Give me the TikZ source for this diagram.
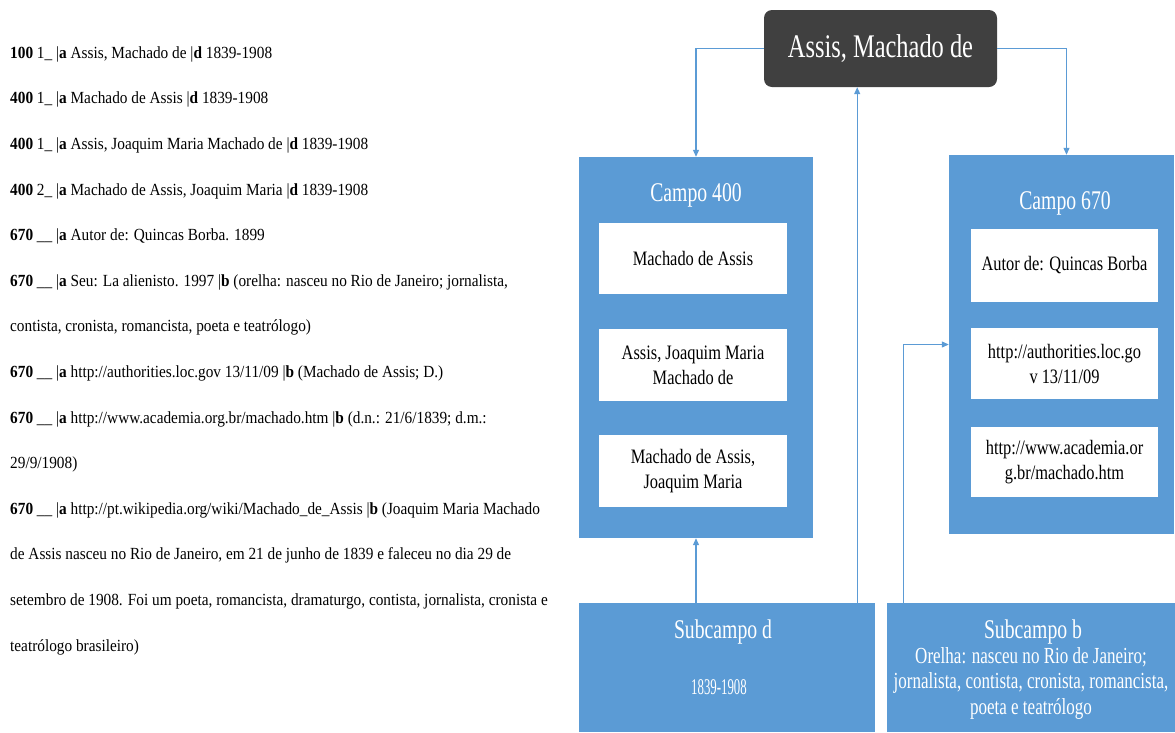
\documentclass[tikz,border=0pt]{standalone}
\usepackage{graphicx}
\usepackage{fontspec}
\setmainfont{Liberation Serif}
\usetikzlibrary{arrows.meta}
\definecolor{boxblue}{HTML}{5B9BD5}
\definecolor{headgray}{HTML}{404040}
% narrow set text, as in the record and in the boxes
\newcommand{\mq}[1]{\scalebox{0.9}[1]{#1}}
\newcommand{\sq}[2][0.78]{\scalebox{#1}[1]{#2}}
\begin{document}
\begin{tikzpicture}[x=1pt,y=-1pt,
  marcline/.style={anchor=base west, inner sep=0pt, font=\fontsize{17}{20}\selectfont},
  headbox/.style={fill=headgray, rounded corners=8pt, inner sep=0pt, text=white,
    font=\fontsize{33}{36}\selectfont},
  fieldbox/.style={fill=boxblue, inner sep=0pt},
  fieldtitle/.style={inner sep=0pt, text=white, font=\fontsize{27}{30}\selectfont},
  valuebox/.style={fill=white, inner sep=0pt, align=center, minimum width=188pt,
    font=\fontsize{20.5}{25}\selectfont},
  datetext/.style={inner sep=0pt, text=white, font=\fontsize{22.5}{26}\selectfont},
  subtext/.style={inner sep=0pt, text=white, align=center, font=\fontsize{23}{25.5}\selectfont},
  conn/.style={draw=boxblue, line width=1.1pt, -{Triangle[length=7pt,width=6pt]}}]
\useasboundingbox (0,0) rectangle (1175,732);

% MARC authority record
\node[marcline] (l1)  at (10,58.3)  {\mq{\textbf{100} 1\_ |\textbf{a} Assis, Machado de |\textbf{d} 1839-1908}};
\node[marcline] (l2)  at (10,103.9) {\mq{\textbf{400} 1\_ |\textbf{a} Machado de Assis |\textbf{d} 1839-1908}};
\node[marcline] (l3)  at (10,149.5) {\mq{\textbf{400} 1\_ |\textbf{a} Assis, Joaquim Maria Machado de |\textbf{d} 1839-1908}};
\node[marcline] (l4)  at (10,195.1) {\mq{\textbf{400} 2\_ |\textbf{a} Machado de Assis, Joaquim Maria |\textbf{d} 1839-1908}};
\node[marcline] (l5)  at (10,240.7) {\mq{\textbf{670} \_\_ |\textbf{a} Autor de: Quincas Borba. 1899}};
\node[marcline] (l6)  at (10,286.3) {\mq{\textbf{670} \_\_ |\textbf{a} Seu: La alienisto. 1997 |\textbf{b} (orelha: nasceu no Rio de Janeiro; jornalista,}};
\node[marcline] (l7)  at (10,331.9) {\mq{contista, cronista, romancista, poeta e teatrólogo)}};
\node[marcline] (l8)  at (10,377.5) {\mq{\textbf{670} \_\_ |\textbf{a} http://authorities.loc.gov 13/11/09 |\textbf{b} (Machado de Assis; D.)}};
\node[marcline] (l9)  at (10,423.1) {\mq{\textbf{670} \_\_ |\textbf{a} http://www.academia.org.br/machado.htm |\textbf{b} (d.n.: 21/6/1839; d.m.:}};
\node[marcline] (l10) at (10,468.7) {\mq{29/9/1908)}};
\node[marcline] (l11) at (10,514.3) {\mq{\textbf{670} \_\_ |\textbf{a} http://pt.wikipedia.org/wiki/Machado\_de\_Assis |\textbf{b} (Joaquim Maria Machado}};
\node[marcline] (l12) at (10,559.9) {\mq{de Assis nasceu no Rio de Janeiro, em 21 de junho de 1839 e faleceu no dia 29 de}};
\node[marcline] (l13) at (10,605.5) {\mq{setembro de 1908. Foi um poeta, romancista, dramaturgo, contista, jornalista, cronista e}};
\node[marcline] (l14) at (10,651.1) {\mq{teatrólogo brasileiro)}};

% heading
\node[headbox, minimum width=233pt, minimum height=77pt] (top) at (880.5,48.5) {\sq[0.74]{Assis, Machado de}};

% field 400
\node[fieldbox, minimum width=234pt, minimum height=381pt] (c400) at (696,347.5) {};
\node[fieldtitle] (t400) at (696,195) {\sq[0.73]{Campo 400}};
\node[valuebox, minimum height=71pt] (v1) at (693,258.5) {\sq[0.8]{Machado de Assis}};
\node[valuebox, minimum height=72pt] (v2) at (693,365) {\sq[0.8]{Assis, Joaquim Maria}\\\sq[0.8]{Machado de}};
\node[valuebox, minimum height=72pt] (v3) at (693,471) {\sq[0.8]{Machado de Assis,}\\\sq[0.8]{Joaquim Maria}};

% field 670
\node[fieldbox, minimum width=225pt, minimum height=379pt] (c670) at (1061.5,344.5) {};
\node[fieldtitle] (t670) at (1065,203) {\sq[0.73]{Campo 670}};
\node[valuebox, minimum width=187pt, minimum height=73pt] (w1) at (1064.5,265.5) {\sq[0.8]{Autor de: Quincas Borba}};
\node[valuebox, minimum width=187pt, minimum height=71pt] (w2) at (1064.5,363.5) {\sq[0.8]{http://authorities.loc.go}\\\sq[0.8]{v 13/11/09}};
\node[valuebox, minimum width=187pt, minimum height=70pt] (w3) at (1064.5,462) {\sq[0.8]{http://www.academia.or}\\\sq[0.8]{g.br/machado.htm}};

% subfields
\node[fieldbox, minimum width=296pt, minimum height=129pt] (subd) at (727,667.5) {};
\node[fieldtitle] (tsd) at (723,632) {\sq[0.73]{Subcampo d}};
\node[datetext] (vsd) at (719,687) {\sq[0.57]{1839-1908}};
\node[fieldbox, minimum width=288pt, minimum height=129pt] (subb) at (1031,667.5) {};
\node[fieldtitle] (tsb) at (1033,632) {\sq[0.73]{Subcampo b}};
\node[subtext] (vsb) at (1031,683) {\sq[0.74]{Orelha: nasceu no Rio de Janeiro;}\\\sq[0.74]{jornalista, contista, cronista, romancista,}\\\sq[0.74]{poeta e teatrólogo}};

% connectors
\draw[conn] (top.west) -| (c400.north);
\draw[conn] (top.east) -| ([xshift=5pt]c670.north);
\draw[conn] (c400.south |- subd.north) -- (c400.south);
\draw[conn] ([xshift=-18pt]subd.north east) -- ([xshift=-18pt]subd.north east |- top.south);
\draw[conn] ([xshift=17pt]subb.north west) |- (c670.west);
\end{tikzpicture}
\end{document}
